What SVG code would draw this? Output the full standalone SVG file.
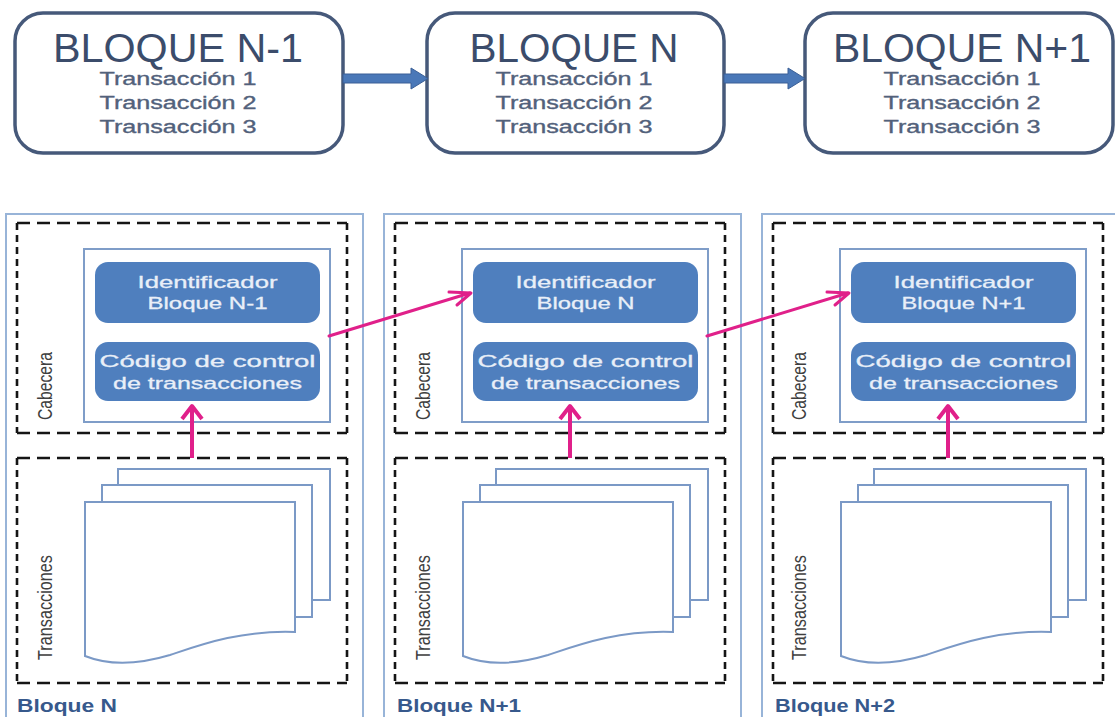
<svg xmlns="http://www.w3.org/2000/svg" xmlns:xlink="http://www.w3.org/1999/xlink" width="1115" height="717" viewBox="0 0 1115 717">
  <style>
    .chain-box { fill: #ffffff; stroke: #46597a; stroke-width: 3.5; }
    .title { font-family: "Liberation Sans", Arial, sans-serif; font-size: 40px; fill: #3b4c6b; text-anchor: middle; }
    .tx { font-family: "Liberation Sans", Arial, sans-serif; font-size: 17.5px; fill: #52617b; stroke: #52617b; stroke-width: 0.35; text-anchor: middle; }
    .fat-arrow { fill: #4a78b8; stroke: #3a5f96; stroke-width: 1; }
    .block { fill: #ffffff; stroke: #98b4d8; stroke-width: 2; }
    .frame { fill: #ffffff; stroke: #7f9dc8; stroke-width: 2; }
    .field { fill: #4f7fbe; }
    .field-text { font-family: "Liberation Sans", Arial, sans-serif; font-size: 17px; fill: #e9eff8; stroke: #e9eff8; stroke-width: 0.3; text-anchor: middle; }
    .dash-h { stroke: #151515; stroke-width: 2.6; stroke-dasharray: 13 7; fill: none; }
    .dash-v { stroke: #151515; stroke-width: 2.6; stroke-dasharray: 7 5; fill: none; }
    .doc { fill: #ffffff; stroke: #7b99c6; stroke-width: 2; }
    .side { font-family: "Liberation Sans", Arial, sans-serif; font-size: 21px; fill: #3f3f3f; }
    .caption { font-family: "Liberation Sans", Arial, sans-serif; font-size: 18px; font-weight: bold; fill: #37598c; }
    .link { stroke: #e0208a; stroke-width: 3; fill: none; stroke-linecap: round; stroke-linejoin: round; }
    .link-up { stroke: #e0208a; stroke-width: 4; fill: none; stroke-linejoin: round; }
  </style>
  <defs>
    <!-- dashed section outlines (Cabecera / Transacciones) -->
    <g id="dashedHeader">
      <path class="dash-h" d="M17,223 H347 M17,433 H347"/>
      <path class="dash-v" d="M17,223 V433 M347,223 V433"/>
    </g>
    <g id="dashedBody">
      <path class="dash-h" d="M17,458 H347 M17,683 H347"/>
      <path class="dash-v" d="M17,458 V683 M347,458 V683"/>
    </g>
    <!-- stack of three transaction documents -->
    <g id="docStack">
      <rect class="doc" x="118" y="469" width="212" height="131"/>
      <rect class="doc" x="102" y="485" width="210" height="132"/>
      <path class="doc" d="M85,502 H295 V632 C240,630 200,645 170,655 C140,664 110,666 85,656 Z"/>
    </g>
    <!-- upward link from the transactions to the control code -->
    <g id="upLink">
      <path class="link-up" d="M192,458 V407"/>
      <path class="link-up" d="M182,419 L192,406 L202,419"/>
    </g>
  </defs>

  <!-- chain of blocks -->
  <g id="top-block-n-1">
    <rect class="chain-box" x="15" y="13" width="328" height="140" rx="28"/>
    <text class="title" x="178" y="62" textLength="250" lengthAdjust="spacingAndGlyphs">BLOQUE N-1</text>
    <text class="tx" x="178" y="85" textLength="157" lengthAdjust="spacingAndGlyphs">Transacción 1</text>
    <text class="tx" x="178" y="109" textLength="157" lengthAdjust="spacingAndGlyphs">Transacción 2</text>
    <text class="tx" x="178" y="133" textLength="157" lengthAdjust="spacingAndGlyphs">Transacción 3</text>
  </g>
  <g id="top-block-n">
    <rect class="chain-box" x="427" y="13" width="297" height="140" rx="28"/>
    <text class="title" x="574" y="62" textLength="209" lengthAdjust="spacingAndGlyphs">BLOQUE N</text>
    <text class="tx" x="574" y="85" textLength="157" lengthAdjust="spacingAndGlyphs">Transacción 1</text>
    <text class="tx" x="574" y="109" textLength="157" lengthAdjust="spacingAndGlyphs">Transacción 2</text>
    <text class="tx" x="574" y="133" textLength="157" lengthAdjust="spacingAndGlyphs">Transacción 3</text>
  </g>
  <g id="top-block-n+1">
    <rect class="chain-box" x="805" y="13" width="308" height="140" rx="28"/>
    <text class="title" x="962" y="62" textLength="258" lengthAdjust="spacingAndGlyphs">BLOQUE N+1</text>
    <text class="tx" x="962" y="85" textLength="157" lengthAdjust="spacingAndGlyphs">Transacción 1</text>
    <text class="tx" x="962" y="109" textLength="157" lengthAdjust="spacingAndGlyphs">Transacción 2</text>
    <text class="tx" x="962" y="133" textLength="157" lengthAdjust="spacingAndGlyphs">Transacción 3</text>
  </g>

  <!-- block detail columns -->
  <g id="block-n">
    <rect class="block" x="6" y="214" width="357" height="530"/>
    <use xlink:href="#dashedHeader"/>
    <use xlink:href="#dashedBody"/>
    <rect class="frame" x="84" y="249" width="246" height="173"/>
    <rect class="field" x="95" y="262" width="225" height="61" rx="13"/>
    <rect class="field" x="95" y="342" width="225" height="59" rx="13"/>
    <text class="field-text" x="207.5" y="288" textLength="140" lengthAdjust="spacingAndGlyphs">Identificador</text>
    <text class="field-text" x="207.5" y="309" textLength="120" lengthAdjust="spacingAndGlyphs">Bloque N-1</text>
    <text class="field-text" x="207.5" y="367" textLength="216" lengthAdjust="spacingAndGlyphs">Código de control</text>
    <text class="field-text" x="207.5" y="389" textLength="189" lengthAdjust="spacingAndGlyphs">de transacciones</text>
    <use xlink:href="#docStack"/>
    <text class="side" transform="translate(52,420) rotate(-90)" textLength="68" lengthAdjust="spacingAndGlyphs">Cabecera</text>
    <text class="side" transform="translate(52,660) rotate(-90)" textLength="105" lengthAdjust="spacingAndGlyphs">Transacciones</text>
    <text class="caption" x="17" y="712" textLength="100" lengthAdjust="spacingAndGlyphs">Bloque N</text>
  </g>

  <g id="block-n+1" transform="translate(378,0)">
    <rect class="block" x="6" y="214" width="357" height="530"/>
    <use xlink:href="#dashedHeader"/>
    <use xlink:href="#dashedBody"/>
    <rect class="frame" x="84" y="249" width="246" height="173"/>
    <rect class="field" x="95" y="262" width="225" height="61" rx="13"/>
    <rect class="field" x="95" y="342" width="225" height="59" rx="13"/>
    <text class="field-text" x="207.5" y="288" textLength="140" lengthAdjust="spacingAndGlyphs">Identificador</text>
    <text class="field-text" x="207.5" y="309" textLength="98" lengthAdjust="spacingAndGlyphs">Bloque N</text>
    <text class="field-text" x="207.5" y="367" textLength="216" lengthAdjust="spacingAndGlyphs">Código de control</text>
    <text class="field-text" x="207.5" y="389" textLength="189" lengthAdjust="spacingAndGlyphs">de transacciones</text>
    <use xlink:href="#docStack"/>
    <text class="side" transform="translate(52,420) rotate(-90)" textLength="68" lengthAdjust="spacingAndGlyphs">Cabecera</text>
    <text class="side" transform="translate(52,660) rotate(-90)" textLength="105" lengthAdjust="spacingAndGlyphs">Transacciones</text>
    <text class="caption" x="19" y="712" textLength="124" lengthAdjust="spacingAndGlyphs">Bloque N+1</text>
  </g>

  <g id="block-n+2" transform="translate(756,0)">
    <rect class="block" x="6" y="214" width="357" height="530"/>
    <use xlink:href="#dashedHeader"/>
    <use xlink:href="#dashedBody"/>
    <rect class="frame" x="84" y="249" width="246" height="173"/>
    <rect class="field" x="95" y="262" width="225" height="61" rx="13"/>
    <rect class="field" x="95" y="342" width="225" height="59" rx="13"/>
    <text class="field-text" x="207.5" y="288" textLength="140" lengthAdjust="spacingAndGlyphs">Identificador</text>
    <text class="field-text" x="207.5" y="309" textLength="124" lengthAdjust="spacingAndGlyphs">Bloque N+1</text>
    <text class="field-text" x="207.5" y="367" textLength="216" lengthAdjust="spacingAndGlyphs">Código de control</text>
    <text class="field-text" x="207.5" y="389" textLength="189" lengthAdjust="spacingAndGlyphs">de transacciones</text>
    <use xlink:href="#docStack"/>
    <text class="side" transform="translate(50,420) rotate(-90)" textLength="68" lengthAdjust="spacingAndGlyphs">Cabecera</text>
    <text class="side" transform="translate(50,660) rotate(-90)" textLength="105" lengthAdjust="spacingAndGlyphs">Transacciones</text>
    <text class="caption" x="19" y="712" textLength="120" lengthAdjust="spacingAndGlyphs">Bloque N+2</text>
  </g>

  <!-- connectors -->
  <g id="connectors">
    <path class="fat-arrow" d="M343,74 H411 V68 L428,78.5 L411,89 V83 H343 Z"/>
    <path class="fat-arrow" d="M724,74 H788 V68 L805,78.5 L788,89 V83 H724 Z"/>
    <path class="link" d="M329,336 L470,293"/>
    <path class="link" d="M449,292 L471,293 L457,305"/>
    <path class="link" d="M707,336 L848,293"/>
    <path class="link" d="M827,292 L849,293 L835,305"/>
    <use xlink:href="#upLink"/>
    <use xlink:href="#upLink" transform="translate(378,0)"/>
    <use xlink:href="#upLink" transform="translate(756,0)"/>
  </g>
</svg>
